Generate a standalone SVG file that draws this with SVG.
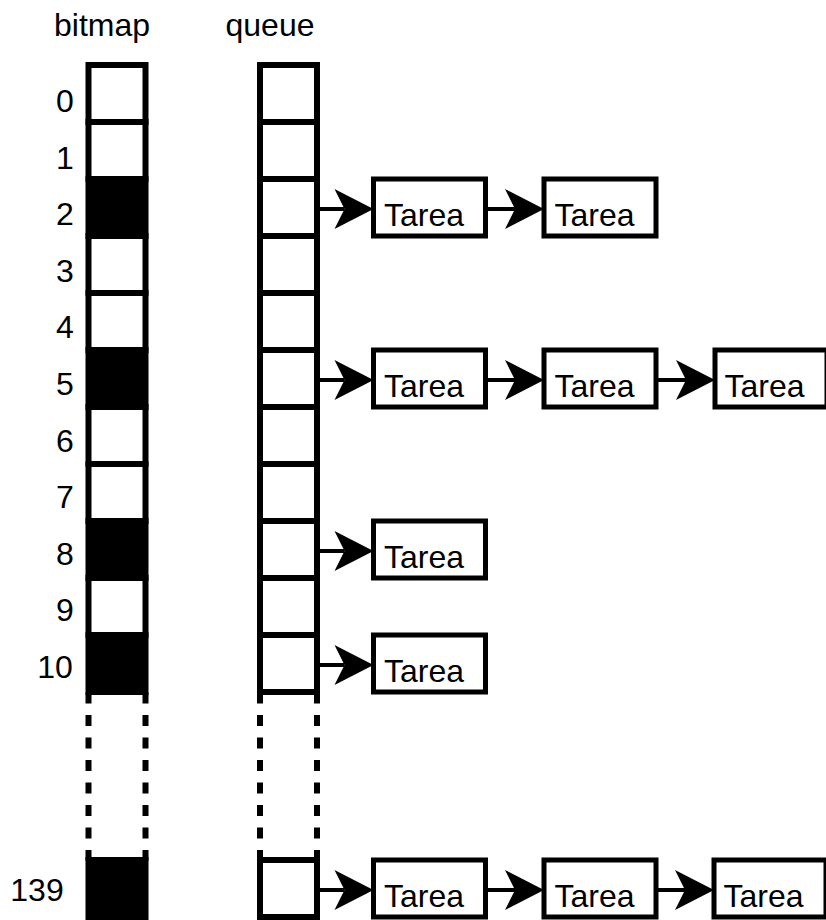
<svg xmlns="http://www.w3.org/2000/svg" width="826" height="920" viewBox="0 0 826 920">
  <style>
    text { font-family: "Liberation Sans", Arial, sans-serif; font-size: 32px; fill: #000; }
    .num { text-anchor: middle; }
    .cell { fill: #fff; stroke: #000; stroke-width: 6; }
    .cell.set { fill: #000; }
    .dash { stroke: #000; stroke-width: 6; stroke-dasharray: 11 11.5; fill: none; }
    .task rect { fill: #fff; stroke: #000; stroke-width: 5; }
    .link { stroke: #000; stroke-width: 4; fill: none; marker-end: url(#head); }
  </style>
  <defs>
    <marker id="head" viewBox="-41 -22 42 44" markerWidth="42" markerHeight="44" refX="-29" refY="0" orient="auto" markerUnits="userSpaceOnUse">
      <path d="M0,0 L-39,-20 L-29,0 L-39,20 Z" fill="#000"/>
    </marker>
  </defs>
  <rect width="826" height="920" fill="#fff"/>

  <!-- column headers -->
  <text x="102" y="36" class="num">bitmap</text>
  <text x="270" y="36" class="num">queue</text>

  <!-- priority indices -->
  <g id="indices">
    <text class="num" x="65" y="112">0</text>
    <text class="num" x="65" y="168.6">1</text>
    <text class="num" x="65" y="225.2">2</text>
    <text class="num" x="65" y="281.8">3</text>
    <text class="num" x="65" y="338.4">4</text>
    <text class="num" x="65" y="395">5</text>
    <text class="num" x="65" y="451.6">6</text>
    <text class="num" x="65" y="508.2">7</text>
    <text class="num" x="65" y="564.8">8</text>
    <text class="num" x="65" y="621.4">9</text>
    <text class="num" x="55" y="678">10</text>
    <text class="num" x="37" y="901">139</text>
  </g>

  <!-- bitmap column -->
  <g id="bitmap">
    <rect class="cell" x="88.5" y="65" width="57" height="57"/>
    <rect class="cell" x="88.5" y="122" width="57" height="57"/>
    <rect class="cell set" x="88.5" y="179" width="57" height="57"/>
    <rect class="cell" x="88.5" y="236" width="57" height="57"/>
    <rect class="cell" x="88.5" y="293" width="57" height="57"/>
    <rect class="cell set" x="88.5" y="350" width="57" height="57"/>
    <rect class="cell" x="88.5" y="407" width="57" height="57"/>
    <rect class="cell" x="88.5" y="464" width="57" height="57"/>
    <rect class="cell set" x="88.5" y="521" width="57" height="57"/>
    <rect class="cell" x="88.5" y="578" width="57" height="57"/>
    <rect class="cell set" x="88.5" y="635" width="57" height="57"/>
    <line class="dash" x1="88.5" y1="692.5" x2="88.5" y2="862"/>
    <line class="dash" x1="145.5" y1="692.5" x2="145.5" y2="862"/>
    <rect class="cell set" x="88.5" y="860" width="57" height="57"/>
  </g>

  <!-- queue column -->
  <g id="queue">
    <rect class="cell" x="260" y="65" width="57" height="57"/>
    <rect class="cell" x="260" y="122" width="57" height="57"/>
    <rect class="cell" x="260" y="179" width="57" height="57"/>
    <rect class="cell" x="260" y="236" width="57" height="57"/>
    <rect class="cell" x="260" y="293" width="57" height="57"/>
    <rect class="cell" x="260" y="350" width="57" height="57"/>
    <rect class="cell" x="260" y="407" width="57" height="57"/>
    <rect class="cell" x="260" y="464" width="57" height="57"/>
    <rect class="cell" x="260" y="521" width="57" height="57"/>
    <rect class="cell" x="260" y="578" width="57" height="57"/>
    <rect class="cell" x="260" y="635" width="57" height="57"/>
    <line class="dash" x1="260" y1="692.5" x2="260" y2="862"/>
    <line class="dash" x1="317" y1="692.5" x2="317" y2="862"/>
    <rect class="cell" x="260" y="860" width="57" height="57"/>
  </g>

  <!-- task lists -->
  <g id="task-2a" class="task"><rect x="373.5" y="179" width="112" height="57"/><text x="384" y="226">Tarea</text></g>
  <g id="task-2b" class="task"><rect x="544" y="179" width="112" height="57"/><text x="554.5" y="226">Tarea</text></g>

  <g id="task-5a" class="task"><rect x="373.5" y="350" width="112" height="57"/><text x="384" y="397">Tarea</text></g>
  <g id="task-5b" class="task"><rect x="544" y="350" width="112" height="57"/><text x="554.5" y="397">Tarea</text></g>
  <g id="task-5c" class="task"><rect x="715" y="350" width="112" height="57"/><text x="724.5" y="397">Tarea</text></g>

  <g id="task-8a" class="task"><rect x="373.5" y="521" width="112" height="57"/><text x="384" y="568">Tarea</text></g>

  <g id="task-10a" class="task"><rect x="373.5" y="635" width="112" height="57"/><text x="384" y="682">Tarea</text></g>

  <g id="task-139a" class="task"><rect x="373.5" y="860" width="112" height="57"/><text x="384" y="907">Tarea</text></g>
  <g id="task-139b" class="task"><rect x="544" y="860" width="112" height="57"/><text x="554.5" y="907">Tarea</text></g>
  <g id="task-139c" class="task"><rect x="714" y="860" width="112" height="57"/><text x="723.5" y="907">Tarea</text></g>

  <!-- connectors -->
  <g id="connectors">
    <line class="link" x1="317" y1="209" x2="344.5" y2="209"/>
    <line class="link" x1="485.5" y1="209" x2="515" y2="209"/>

    <line class="link" x1="317" y1="380" x2="344.5" y2="380"/>
    <line class="link" x1="485.5" y1="380" x2="515" y2="380"/>
    <line class="link" x1="656" y1="380" x2="686" y2="380"/>

    <line class="link" x1="317" y1="551" x2="344.5" y2="551"/>

    <line class="link" x1="317" y1="665" x2="344.5" y2="665"/>

    <line class="link" x1="317" y1="890" x2="344.5" y2="890"/>
    <line class="link" x1="485.5" y1="890" x2="515" y2="890"/>
    <line class="link" x1="656" y1="890" x2="685" y2="890"/>
  </g>
</svg>
